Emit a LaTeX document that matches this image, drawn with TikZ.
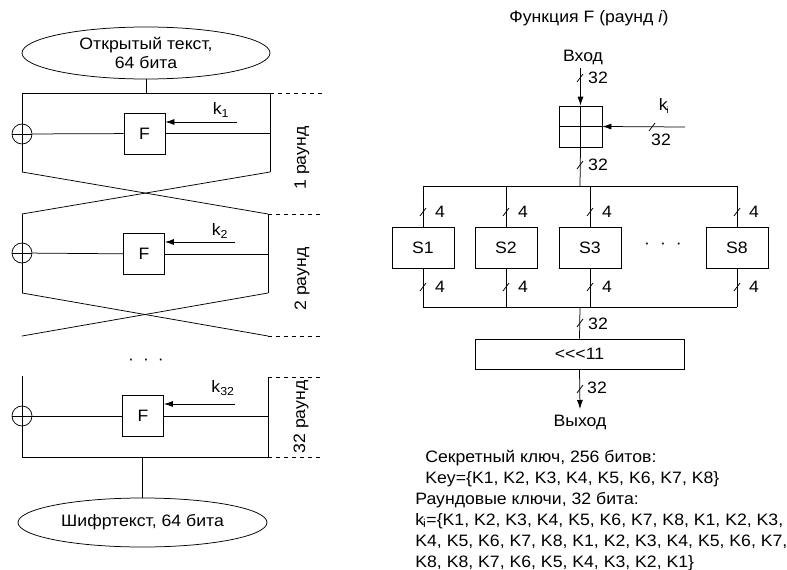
\documentclass[tikz,border=0pt]{standalone}
\usepackage{fontspec}
\setmainfont[FakeStretch=1.07]{Liberation Sans}
\usetikzlibrary{shapes.geometric,arrows.meta}
\begin{document}
\begin{tikzpicture}[x=1pt,y=-1pt,line width=0.75pt,
  font=\fontsize{16.5}{19}\selectfont,
  ell/.style={draw, ellipse, inner sep=0pt, align=center},
  fbox/.style={draw, minimum width=41pt, minimum height=41pt, inner sep=0pt},
  sbox/.style={draw, minimum width=62pt, minimum height=41pt, inner sep=0pt},
  xor/.style={draw, circle, minimum size=20pt, inner sep=0pt,
    path picture={\draw (path picture bounding box.west) -- (path picture bounding box.east);}},
  arr/.style={-{Latex[length=9pt,width=6pt]}},
  dsh/.style={dash pattern=on 4pt off 4pt},
  lbl/.style={inner sep=0pt},
  rlbl/.style={inner sep=0pt, rotate=90},
  pics/bt/.style={code={\draw (-3,4) -- (3,-4);}}
]
\useasboundingbox (0,0) rectangle (787,570);

% ================= LEFT: Feistel network =================
\node[ell, minimum width=248pt, minimum height=52pt] (pt) at (146,53) {Открытый текст,\\64 бита};
\coordinate (t1L) at (22,93);  \coordinate (t1R) at (270,93);
\coordinate (b1L) at (22,172); \coordinate (b1R) at (270,172);
\coordinate (t2L) at (22,214); \coordinate (t2R) at (268,214);
\coordinate (b2L) at (22,293); \coordinate (b2R) at (268,293);
\coordinate (e2L) at (22,336); \coordinate (e2R) at (268,336);
\coordinate (t3L) at (22,376); \coordinate (t3R) at (268,377);
\coordinate (b3L) at (22,457); \coordinate (b3R) at (268,457);

\draw (pt.south) -- (pt.south |- t1L);
\draw (t1L) -- (t1R);
% round 1
\node[xor] (x1) at (22,134) {};
\node[fbox] (f1) at (144.5,133.5) {F};
\draw (t1L) -- (b1L);
\draw (t1R) -- (b1R);
\draw (x1) -- (f1);
\draw (f1.east) -- (f1.east -| t1R);
\coordinate (k1s) at (237,122);
\draw[arr] (k1s) -- (k1s -| f1.east);
\node[lbl] (k1) at (221,110) {k\textsubscript{1}};
\draw (b1L) -- (t2R);
\draw (b1R) -- (t2L);
% round 2
\node[xor] (x2) at (22,253) {};
\node[fbox] (f2) at (144,254) {F};
\draw (t2L) -- (b2L);
\draw (t2R) -- (b2R);
\draw (x2) -- (f2);
\draw (f2.east) -- (f2.east -| t2R);
\coordinate (k2s) at (235,242);
\draw[arr] (k2s) -- (k2s -| f2.east);
\node[lbl] (k2) at (220,231) {k\textsubscript{2}};
\draw (b2L) -- (e2R);
\draw (b2R) -- (e2L);
\node[lbl] (dotsL) at (146,362) {·\hspace{9pt}·\hspace{9pt}·};
% round 32
\node[xor] (x3) at (22,416) {};
\node[fbox] (f3) at (143,416) {F};
\draw (t3L) -- (b3L);
\draw (t3R) -- (b3R);
\draw (b3L) -- (b3R);
\draw (x3) -- (f3);
\draw (f3.east) -- (f3.east -| t3R);
\coordinate (k3s) at (235,404);
\draw[arr] (k3s) -- (k3s -| f3.east);
\node[lbl] (k3) at (223,388) {k\textsubscript{32}};

\node[ell, minimum width=249pt, minimum height=49pt] (ct) at (142.5,522.5) {Шифртекст, 64 бита};
\draw (ct.north |- b3L) -- (ct.north);

% dashed round brackets
\draw[dsh] (t1R) -- ++(52,0);
\draw[dsh] (t2R) -- ++(54,0);
\draw[dsh] (e2R) -- ++(54,0);
\draw[dsh] (t3R) -- ++(54,0);
\draw[dsh] (b3R) -- ++(54,0);
\node[rlbl] (r1) at (302,158) {1 раунд};
\node[rlbl] (r2) at (302,279) {2 раунд};
\node[rlbl] (r3) at (301,417) {32 раунд};

% ================= RIGHT: function F =================
\node[lbl] (title) at (589,18) {Функция F (раунд \textit{i})};
\node[lbl] (in) at (583,57) {Вход};
\node[draw, minimum width=43pt, minimum height=41pt, inner sep=0pt] (mix) at (580.5,126.5) {};
\draw[arr] ([yshift=-3pt]in.south -| mix.north) -- (mix.north);
\draw (mix.north) -- (mix.south);
\draw (mix.west) -- (mix.east);
\pic at (580,78) {bt};
\node[lbl] (l32a) at (598,78) {32};
\coordinate (kin) at (685,127);
\draw[arr] (kin) -- (mix.east);
\pic at (652,127) {bt};
\node[lbl] (l32k) at (661,140) {32};
\node[lbl] (ki) at (664,106) {k\textsubscript{\kern-1pt\fontsize{9}{9}\selectfont i}};

\coordinate (busT) at (580,186);
\draw (mix.south) -- (busT);
\pic at (580,165) {bt};
\node[lbl] (l32b) at (598,165) {32};

\node[sbox] (s1) at (423,247.5) {S1};
\node[sbox] (s2) at (506,247.5) {S2};
\node[sbox] (s3) at (590,247.5) {S3};
\node[sbox] (s8) at (737,247.5) {S8};
\node[lbl] (dotsR) at (663,246) {·\hspace{10pt}·\hspace{10pt}·};
\coordinate (busB) at (580,307);
\draw (s1.north |- busT) -- (s8.north |- busT);
\draw (s1.south |- busB) -- (s8.south |- busB);
\foreach \s in {s1,s2,s3,s8}{
  \draw (\s.north |- busT) -- (\s.north);
  \draw (\s.south) -- (\s.south |- busB);
}
\foreach \x in {423,506,590,737}{
  \pic at (\x,212) {bt};
  \node[lbl] at (\x+17,212) {4};
  \pic at (\x,287) {bt};
  \node[lbl] at (\x+17,287) {4};
}

\node[draw, minimum width=209pt, minimum height=30pt, inner sep=0pt] (rot) at (579.5,354) {<{}<{}<11};
\draw (busB) -- (rot.north);
\pic at (580,323) {bt};
\node[lbl] (l32c) at (598,324) {32};

\node[lbl, anchor=north] (out) at (580,415) {Выход};
\draw[arr] (rot.south) -- ([yshift=6pt]out.north);
\pic at (580,389) {bt};
\node[lbl] (l32d) at (597,388) {32};

% key text
\node[lbl, anchor=base west] (kt1) at (425,462) {Секретный ключ, 256 битов:};
\node[lbl, anchor=base west] (kt2) at (425,483) {Key=\{K1, K2, K3, K4, K5, K6, K7, K8\}};
\node[lbl, anchor=base west] (kt3) at (415,504) {Раундовые ключи, 32 бита:};
\node[lbl, anchor=base west] (kt4) at (415,525) {k\textsubscript{\kern-1pt i}=\{K1, K2, K3, K4, K5, K6, K7, K8, K1, K2, K3,};
\node[lbl, anchor=base west] (kt5) at (415,546) {K4, K5, K6, K7, K8, K1, K2, K3, K4, K5, K6, K7,};
\node[lbl, anchor=base west] (kt6) at (415,567) {K8, K8, K7, K6, K5, K4, K3, K2, K1\}};
\end{tikzpicture}
\end{document}
